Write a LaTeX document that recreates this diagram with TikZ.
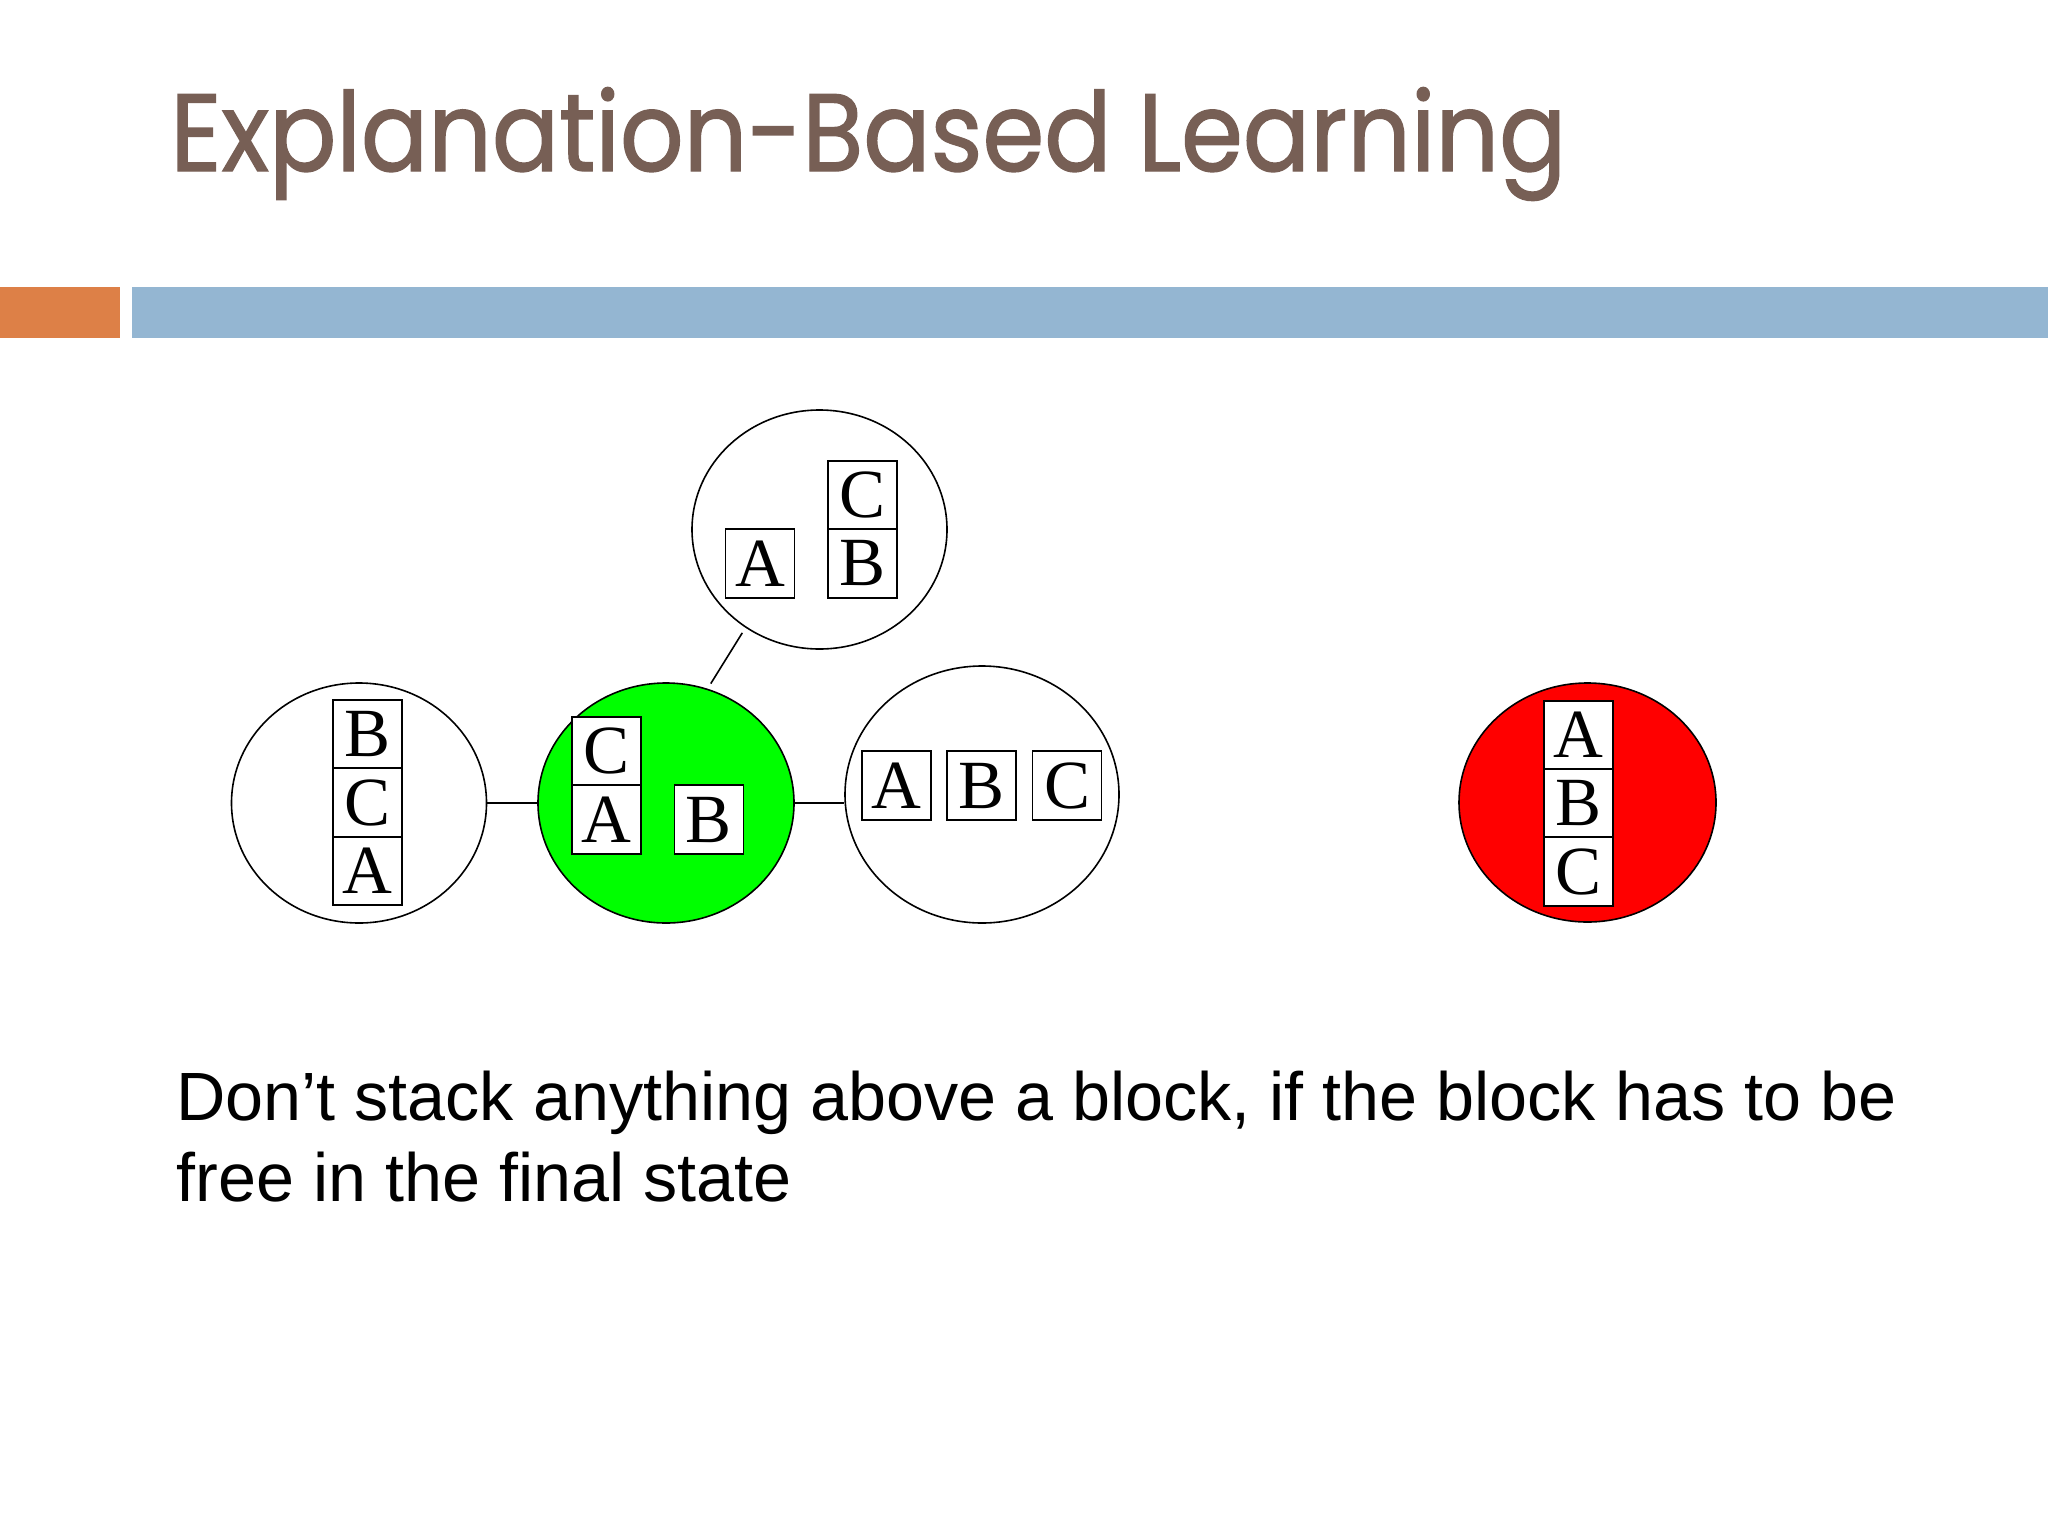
\documentclass[tikz,border=0pt]{standalone}
\usepackage{fontspec}
\usetikzlibrary{shapes.geometric}
\newfontfamily\titlefont[FakeStretch=0.905,FakeBold=1.2]{Poppins}
\newfontfamily\bodyfont{Liberation Sans}
\newfontfamily\blockfont{Liberation Serif}
\definecolor{titlebrown}{HTML}{775F55}
\definecolor{barorange}{HTML}{DD8047}
\definecolor{barblue}{HTML}{94B6D2}
\definecolor{stategreen}{HTML}{00FF00}
\definecolor{statered}{HTML}{FF0000}
\begin{document}
\begin{tikzpicture}[x=0.5pt,y=-0.5pt,
  state/.style={draw=black,line width=0.8pt,ellipse,inner sep=0pt,fill=white},
  blockbox/.style={draw=black,line width=0.85pt,fill=white,inner sep=0pt,
    minimum width=34.5pt,minimum height=34.25pt,font=\blockfont\fontsize{34.5}{34.5}\selectfont},
  link/.style={draw=black,line width=0.8pt}]
\useasboundingbox (0,0) rectangle (2048,1536);
\fill[white] (0,0) rectangle (2048,1536);
% title
\node[anchor=base west,inner sep=0pt,text=titlebrown,font=\titlefont\fontsize{55}{55}\selectfont] (title) at (170,171) {Explanation-Based Learning};
% bars
\fill[barorange] (0,287) rectangle (120,338);
\fill[barblue] (132,287) rectangle (2048,338);
% state ellipses
\node[state,minimum width=127.5pt,minimum height=119.5pt] (top) at (819.5,529.5) {};
\node[state,minimum width=127.5pt,minimum height=120pt] (left) at (359,803) {};
\node[state,fill=stategreen,minimum width=128pt,minimum height=120pt] (green) at (666,803) {};
\node[state,minimum width=137pt,minimum height=128.5pt] (right) at (982,794.5) {};
\node[state,fill=statered,minimum width=128.5pt,minimum height=119.5pt] (red) at (1587.5,802.5) {};
% connectors
\draw[link] (left.east) -- (green.west);
\draw[link] (green.east) -- (green.east -| right.west);
\draw[link,shorten <=3pt,shorten >=3pt] (top.233) -- (green.70);
% blocks: top state
\node[blockbox] (tA) at (760,563.5) {A};
\node[blockbox] (tC) at (862.5,495) {C};
\node[blockbox] (tB) at (862.5,563.5) {B};
% left state
\node[blockbox] (lB) at (367.5,734) {B};
\node[blockbox] (lC) at (367.5,802.5) {C};
\node[blockbox] (lA) at (367.5,871) {A};
% green state
\node[blockbox] (gC) at (606.5,751) {C};
\node[blockbox] (gA) at (606.5,819.5) {A};
\node[blockbox] (gB) at (709,819.5) {B};
% right state
\node[blockbox] (rA) at (896.5,785.5) {A};
\node[blockbox] (rB) at (981.75,785.5) {B};
\node[blockbox] (rC) at (1067,785.5) {C};
% red state
\node[blockbox] (dA) at (1578.5,735) {A};
\node[blockbox] (dB) at (1578.5,803) {B};
\node[blockbox] (dC) at (1578.5,871.5) {C};
% caption
\node[anchor=base west,inner sep=0pt,font=\bodyfont\fontsize{34.15}{40.5}\selectfont] (cap1) at (176,1120) {Don’t stack anything above a block, if the block has to be};
\node[anchor=base west,inner sep=0pt,font=\bodyfont\fontsize{34.15}{40.5}\selectfont] (cap2) at (176,1201) {free in the final state};
\end{tikzpicture}
\end{document}
